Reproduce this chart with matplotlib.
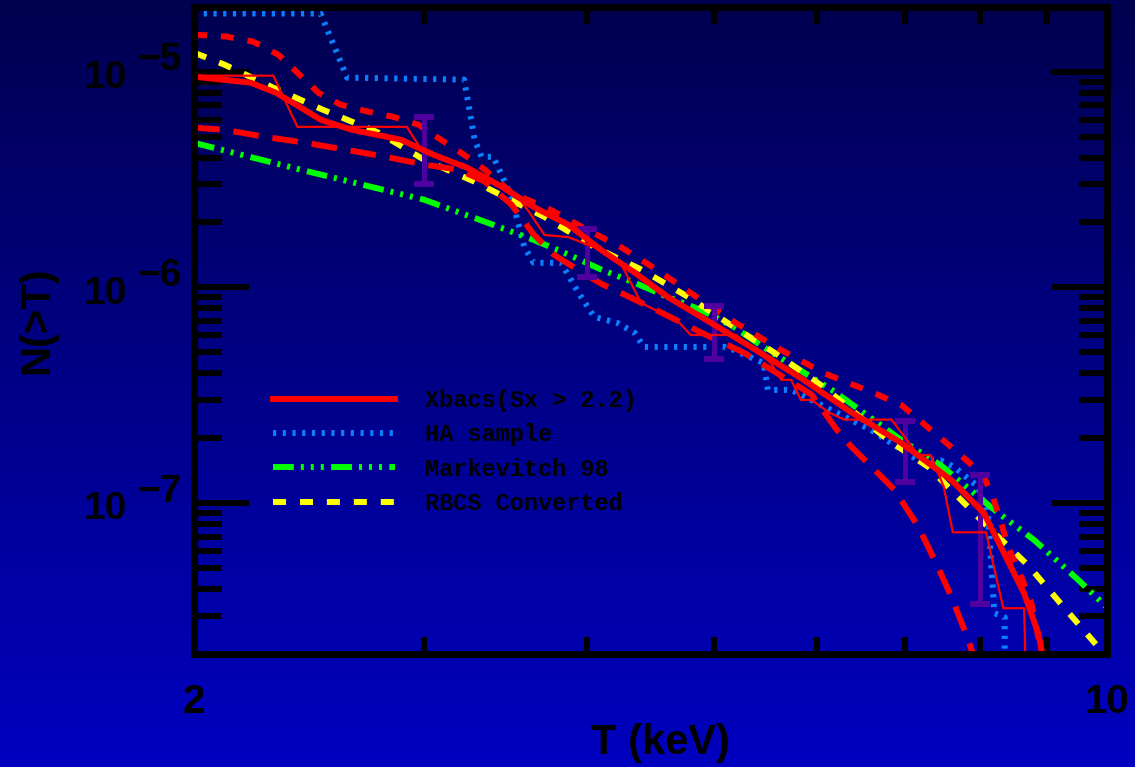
import numpy as np
import matplotlib
matplotlib.use("Agg")
import matplotlib.pyplot as plt
from matplotlib.ticker import FixedLocator, NullFormatter

plt.rcParams["lines.scale_dashes"] = False

# Xbacs, smooth fit (thick red)
xbacs_fit_T = [2.0, 2.21, 2.31, 2.415, 2.50, 2.64, 2.88, 3.05, 3.24, 3.44, 3.64, 3.87, 4.10,
               4.35, 4.61, 4.89, 5.34, 5.83, 6.37, 6.96, 7.60, 8.05, 8.34, 8.64, 8.86, 8.93]
xbacs_fit_N = [9.48e-6, 8.89e-6, 7.99e-6, 6.81e-6, 5.99e-6, 5.38e-6, 4.84e-6, 4.12e-6, 3.58e-6,
               2.93e-6, 2.36e-6, 1.95e-6, 1.49e-6, 1.17e-6, 9.03e-7, 7.30e-7, 5.29e-7, 3.80e-7,
               2.64e-7, 1.90e-7, 1.28e-7, 8.99e-8, 5.86e-8, 3.82e-8, 2.49e-8, 1.93e-8]

# Xbacs, raw counts (thin red)
xbacs_T = [2.0, 2.30, 2.40, 2.91, 2.98, 3.32, 3.54, 3.61, 3.71, 3.87, 4.10, 4.25, 4.40, 4.70,
           4.80, 5.20, 5.44, 5.53, 5.63, 5.73, 5.83, 5.94, 6.12, 6.29, 6.84, 7.17, 7.33, 7.50,
           7.62, 8.08, 8.33, 8.64, 8.67]
xbacs_N = [9.58e-6, 9.58e-6, 5.55e-6, 5.55e-6, 4.44e-6, 3.30e-6, 2.63e-6, 2.24e-6, 1.75e-6,
           1.71e-6, 1.49e-6, 1.27e-6, 8.47e-7, 6.92e-7, 6.02e-7, 6.02e-7, 4.86e-7, 4.46e-7,
           3.73e-7, 3.73e-7, 3.01e-7, 3.01e-7, 2.64e-7, 2.44e-7, 2.44e-7, 1.67e-7, 1.67e-7,
           1.19e-7, 7.33e-8, 7.33e-8, 3.26e-8, 3.26e-8, 1.5e-8]

# upper short-dashed red
upper_T = [2.0, 2.12, 2.22, 2.32, 2.40, 2.49, 2.59, 2.72, 2.84, 2.97, 3.09, 3.22, 3.34, 3.50,
           3.75, 4.00, 4.25, 4.52, 4.80, 5.20, 5.63, 6.07, 6.63, 6.96, 7.21, 7.49, 7.77, 8.04,
           8.18, 8.30, 8.40, 8.60, 8.75, 8.87, 8.93]
upper_N = [1.485e-5, 1.453e-5, 1.377e-5, 1.199e-5, 9.89e-6, 7.99e-6, 7.03e-6, 6.52e-6, 6.18e-6,
           5.68e-6, 4.84e-6, 4.12e-6, 3.51e-6, 2.75e-6, 2.29e-6, 1.85e-6, 1.53e-6, 1.21e-6,
           9.43e-7, 6.84e-7, 5.13e-7, 4.01e-7, 3.24e-7, 2.85e-7, 2.38e-7, 1.96e-7, 1.62e-7,
           1.35e-7, 1.06e-7, 8.07e-8, 6.25e-8, 4.54e-8, 3.47e-8, 2.31e-8, 1.8e-8]

# lower long-dashed red
lower_T = [2.0, 2.11, 2.26, 2.43, 2.61, 2.80, 3.0, 3.19, 3.34, 3.50, 3.64, 3.77, 3.94, 4.10,
           4.27, 4.56, 4.89, 5.27, 5.94, 6.21, 6.37, 6.87, 7.17, 7.42, 7.60, 7.83, 7.94]
lower_N = [5.50e-6, 5.38e-6, 5.0e-6, 4.69e-6, 4.35e-6, 4.04e-6, 3.71e-6, 3.51e-6, 3.09e-6,
           2.42e-6, 1.76e-6, 1.42e-6, 1.20e-6, 1.04e-6, 9.27e-7, 7.64e-7, 6.18e-7, 4.99e-7,
           3.19e-7, 2.19e-7, 1.83e-7, 1.16e-7, 7.79e-8, 5.08e-8, 3.69e-8, 2.33e-8, 1.8e-8]

# HA sample
ha_T = [2.0, 2.50, 2.62, 3.22, 3.28, 3.32, 3.39, 3.50, 3.58, 3.64, 3.82, 3.94, 4.05, 4.22,
        4.35, 4.42, 5.10, 5.18, 5.46, 5.50, 5.73, 5.94, 6.15, 6.60, 6.87, 7.17, 7.46, 7.64,
        7.97, 8.11, 8.20, 8.35, 8.35]
ha_N = [1.86e-5, 1.86e-5, 9.38e-6, 9.18e-6, 4.84e-6, 4.03e-6, 4.03e-6, 2.63e-6, 1.54e-6,
        1.30e-6, 1.30e-6, 9.43e-7, 7.30e-7, 6.84e-7, 6.15e-7, 5.30e-7, 5.30e-7, 5.13e-7,
        4.46e-7, 3.35e-7, 3.35e-7, 3.01e-7, 2.70e-7, 2.18e-7, 1.86e-7, 1.58e-7, 1.58e-7,
        1.47e-7, 1.19e-7, 8.61e-8, 3.09e-8, 2.96e-8, 1.5e-8]

# Markevitch 98
mk_T = [2.0, 2.415, 3.0, 3.36, 3.64, 3.87, 4.10, 4.35, 4.61, 4.89, 5.18, 5.50, 6.18, 6.96,
        7.46, 8.15, 8.80, 9.51, 10.0]
mk_N = [4.68e-6, 3.51e-6, 2.55e-6, 1.99e-6, 1.66e-6, 1.42e-6, 1.21e-6, 1.05e-6, 9.03e-7,
        7.86e-7, 6.56e-7, 5.13e-7, 3.30e-7, 1.96e-7, 1.50e-7, 9.58e-8, 6.73e-8, 4.40e-8, 3.29e-8]

# RBCS converted
rbcs_T = [2.0, 2.11, 2.30, 2.51, 2.77, 3.0, 3.28, 3.71, 4.05, 4.40, 4.78, 5.18, 5.60, 6.07,
          6.80, 7.30, 8.11, 8.70, 9.27, 9.85, 10.0]
rbcs_N = [1.225e-5, 1.078e-5, 8.43e-6, 6.66e-6, 5.21e-6, 3.91e-6, 3.09e-6, 2.12e-6, 1.54e-6,
          1.21e-6, 9.03e-7, 6.56e-7, 4.86e-7, 3.45e-7, 1.96e-7, 1.47e-7, 7.74e-8, 5.16e-8,
          3.29e-8, 2.15e-8, 1.97e-8]

# error bars
err_T = [3.0, 4.0, 5.0, 7.0, 8.0]
err_lo = [3.02e-6, 1.12e-6, 4.66e-7, 1.25e-7, 3.40e-8]
err_hi = [6.18e-6, 1.87e-6, 8.2e-7, 2.40e-7, 1.35e-7]

decades = [1e-5, 1e-6, 1e-7]
decade_exp = ["\u22125", "\u22126", "\u22127"]

sans = ["Liberation Sans", "DejaVu Sans"]

fig = plt.figure(figsize=(11.35, 7.67), dpi=100)

# background gradient
bg = fig.add_axes([0, 0, 1, 1], zorder=-10)
grad = np.linspace(0, 1, 256)[:, None]
top = np.array([0, 0, 80]) / 255.0
bot = np.array([0, 0, 192]) / 255.0
img = top[None, None, :] * (1 - grad[..., None]) + bot[None, None, :] * grad[..., None]
bg.imshow(img, aspect="auto", extent=[0, 1, 0, 1])
bg.set_axis_off()

ax = fig.add_axes([194 / 1135, 1 - 654 / 767, 913 / 1135, 647.3 / 767])
ax.set_facecolor("none")
ax.set_xscale("log")
ax.set_yscale("log")

ax.plot(ha_T, ha_N, color="#0a80ff", lw=4.3, dashes=(2.3, 4.7), label="HA sample", zorder=2)
ax.plot(mk_T, mk_N, color="#00ff00", lw=4.3,
        dashes=(15, 5, 2.2, 5, 2.2, 5, 2.2, 5.3), label="Markevitch 98", zorder=2.1)
ax.plot(rbcs_T, rbcs_N, color="#ffff00", lw=4.3, dashes=(9.4, 10), label="RBCS Converted",
        zorder=2.2)
ax.plot(upper_T, upper_N, color="red", lw=4.3, dashes=(9.4, 10), zorder=2.3)
ax.plot(lower_T, lower_N, color="red", lw=4.3, dashes=(18.5, 10), zorder=2.3)
ax.plot(xbacs_T, xbacs_N, color="red", lw=1.6, zorder=2.4)
ax.plot(xbacs_fit_T, xbacs_fit_N, color="red", lw=4.3, label="Xbacs(Sx > 2.2)", zorder=2.45)

err_mid = np.sqrt(np.array(err_lo) * np.array(err_hi))
ax.errorbar(err_T, err_mid, yerr=[err_mid - np.array(err_lo), np.array(err_hi) - err_mid],
            fmt="none", ecolor="#5000a0", elinewidth=3.6, capsize=7.2, capthick=4.3,
            zorder=2.35)

ax.set_xlim(2, 10)
ax.set_ylim(2e-8, 2e-5)

for s in ax.spines.values():
    s.set_linewidth(5)
    s.set_color("black")

ax.set_xticks([2, 10])
ax.set_xticklabels(["2", "10"], fontsize=29, fontweight="bold", family=sans)
ax.xaxis.set_minor_locator(FixedLocator([3, 4, 5, 6, 7, 8, 9]))
ax.xaxis.set_minor_formatter(NullFormatter())
ax.tick_params(axis="x", which="major", length=0, pad=21, colors="black")
ax.tick_params(axis="x", which="minor", direction="in", length=12.2, width=4.3,
               top=True, bottom=True)

ax.set_yticks(decades)
ax.yaxis.set_minor_formatter(NullFormatter())
ax.tick_params(axis="y", which="major", direction="in", length=39.6, width=4.3,
               left=True, right=True, labelleft=False)
ax.tick_params(axis="y", which="minor", direction="in", length=20, width=4.3,
               left=True, right=True)

ytr = ax.get_yaxis_transform()
for d, e in zip(decades, decade_exp):
    ax.annotate("10", xy=(0, d), xycoords=ytr, xytext=(-48.6, -4.5), textcoords="offset points",
                ha="right", va="center", fontsize=28, fontweight="bold", family=sans,
                annotation_clip=False)
    ax.annotate(e, xy=(0, d), xycoords=ytr, xytext=(-9, 8.3), textcoords="offset points",
                ha="right", va="center", fontsize=28, fontweight="bold", family=sans,
                annotation_clip=False)

fig.text(660 / 1135, 1 - 743 / 767, "T (keV)", ha="center", va="center", fontsize=30,
         fontweight="bold", family=sans)
fig.text(37 / 1135, 1 - 320 / 767, "N(>T)", ha="center", va="center", rotation=90,
         fontsize=30, fontweight="bold", family=sans)

h, l = ax.get_legend_handles_labels()
order = [l.index(n) for n in ["Xbacs(Sx > 2.2)", "HA sample", "Markevitch 98", "RBCS Converted"]]
leg = ax.legend([h[i] for i in order], [l[i] for i in order],
                loc="upper left", bbox_to_anchor=(273 / 1135, 1 - 389 / 767),
                bbox_transform=fig.transFigure, frameon=False, borderpad=0,
                borderaxespad=0, handlelength=5.17, handletextpad=1.27, labelspacing=0.48,
                prop={"family": ["Liberation Mono", "DejaVu Sans Mono"], "weight": "bold",
                      "size": 17})
for t in leg.get_texts():
    t.set_color("black")

fig.savefig("out.png", dpi=100)
